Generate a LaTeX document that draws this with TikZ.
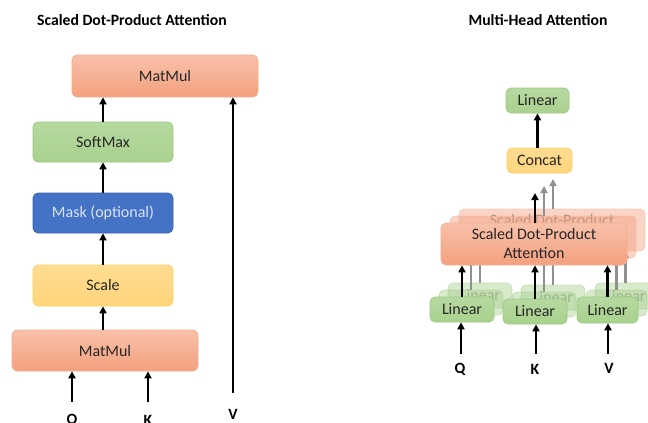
\documentclass[tikz,border=0pt]{standalone}
\usepackage{fontspec}
\setmainfont{Carlito}
\usetikzlibrary{arrows.meta}
\definecolor{txt}{HTML}{262626}
\definecolor{salmontop}{HTML}{F8C1A9}
\definecolor{salmonbot}{HTML}{F4A07F}
\definecolor{salmonline}{HTML}{F5AE90}
\definecolor{greenfill}{HTML}{A9D18E}
\definecolor{greentop}{HTML}{B6D9A0}
\definecolor{greenline}{HTML}{9CC883}
\definecolor{yellowtop}{HTML}{FFDC92}
\definecolor{yellowbot}{HTML}{FFD47C}
\definecolor{yellowline}{HTML}{FFD165}
\definecolor{bluefill}{HTML}{4472C4}
\definecolor{blueline}{HTML}{3B63AD}
\definecolor{bluetext}{HTML}{DAE3F3}
\definecolor{arrgray}{HTML}{909090}
\begin{document}
\begin{tikzpicture}[x=1pt,y=-1pt,
  lbl/.style={font=\fontsize{15.7}{19}\selectfont\bfseries, text=black, inner sep=0pt},
  box/.style={rounded corners=5pt, line width=0.7pt, inner sep=0pt, align=center, text=txt,
    font=\fontsize{16}{19}\selectfont},
  salmonbox/.style={box, draw=salmonline, top color=salmontop, bottom color=salmonbot},
  greenbox/.style={box, draw=greenline, top color=greentop, bottom color=greenfill},
  yellowbox/.style={box, draw=yellowline, top color=yellowtop, bottom color=yellowbot},
  bluebox/.style={box, draw=blueline, fill=bluefill, text=bluetext},
  ghostsalmon/.style={box, draw=salmonline, fill=salmonbot, fill opacity=0.45, draw opacity=0.45, text opacity=0.4},
  ghostgreen/.style={box, draw=greenline, fill=greenfill, fill opacity=0.45, draw opacity=0.45, text opacity=0.4},
  arr/.style={line width=2.1pt, -{Triangle[length=7pt,width=7pt]}},
  garr/.style={arr, draw=arrgray, fill=arrgray},
]
\useasboundingbox (0,0) rectangle (648,423);
\fill[white] (0,0) rectangle (648,423);

% ---------- Left: Scaled Dot-Product Attention ----------
\node[lbl] (t1) at (132,20) {Scaled Dot-Product Attention};
\node[salmonbox, minimum width=186pt, minimum height=42pt] (mm2) at (165,76) {MatMul};
\node[greenbox, minimum width=140pt, minimum height=40pt] (soft) at (103,142) {SoftMax};
\node[bluebox, minimum width=140pt, minimum height=40pt] (mask) at (103,213) {Mask (optional)};
\node[yellowbox, minimum width=140pt, minimum height=41pt] (scale) at (103,285.5) {Scale};
\node[salmonbox, minimum width=186pt, minimum height=41pt] (mm1) at (105,350.5) {MatMul};

\draw[arr] (soft.north) -- (soft.north |- mm2.south);
\draw[arr] (mask.north) -- (soft.south);
\draw[arr] (scale.north) -- (mask.south);
\draw[arr] (scale.south |- mm1.north) -- (scale.south);

\coordinate (q0) at (72,402);
\coordinate (k0) at (148,402);
\coordinate (v0) at (233,393);
\draw[arr] (q0) -- (q0 |- mm1.south);
\draw[arr] (k0) -- (k0 |- mm1.south);
\draw[arr] (v0) -- (v0 |- mm2.south);
\node[lbl] (ql) at (72,420) {Q};
\node[lbl] (kl) at (148,420) {K};
\node[lbl] (vl) at (233,414) {V};

% ---------- Right: Multi-Head Attention ----------
\node[lbl] (t2) at (538,20) {Multi-Head Attention};

% far copy (with faint text)
\begin{scope}[shift={(18,-14)}]
  \node[ghostgreen, minimum width=64pt, minimum height=25pt] (lq2) at (462,309.5) {Linear};
  \node[ghostgreen, minimum width=64pt, minimum height=25pt] (lk2) at (535,311.5) {Linear};
  \node[ghostgreen, minimum width=61pt, minimum height=26pt] (lv2) at (607.5,310) {Linear};
  \node[ghostsalmon, minimum width=186pt, minimum height=42pt] (sd2) at (534,244) {Scaled Dot-Product\\Attention};
  \coordinate (top2) at (535,193);
  \draw[garr] (sd2.north -| top2) -- (top2);
  \draw[garr] (lq2.north) -- (lq2.north |- sd2.south);
  \draw[garr] (lk2.north) -- (lk2.north |- sd2.south);
  \draw[garr] (lv2.north) -- (lv2.north |- sd2.south);
\end{scope}
% middle copy (its text is hidden behind the front layer)
\begin{scope}[shift={(9,-7)}]
  \node[ghostgreen, minimum width=64pt, minimum height=25pt] (lq1) at (462,309.5) {};
  \node[ghostgreen, minimum width=64pt, minimum height=25pt] (lk1) at (535,311.5) {};
  \node[ghostgreen, minimum width=61pt, minimum height=26pt] (lv1) at (607.5,310) {};
  \node[ghostsalmon, minimum width=186pt, minimum height=42pt] (sd1) at (534,244) {};
  \coordinate (top1) at (535,193);
  \draw[garr] (sd1.north -| top1) -- (top1);
  \draw[garr] (lq1.north) -- (lq1.north |- sd1.south);
  \draw[garr] (lk1.north) -- (lk1.north |- sd1.south);
  \draw[garr] (lv1.north) -- (lv1.north |- sd1.south);
\end{scope}

\node[greenbox, minimum width=63pt, minimum height=25pt] (lout) at (537.5,100.5) {Linear};
\node[yellowbox, minimum width=65pt, minimum height=25pt] (concat) at (539.5,160.5) {Concat};
\node[salmonbox, minimum width=186pt, minimum height=42pt] (sdpa) at (534,244) {Scaled Dot-Product\\Attention};
\node[greenbox, minimum width=64pt, minimum height=25pt] (lq) at (462,309.5) {Linear};
\node[greenbox, minimum width=64pt, minimum height=25pt] (lk) at (535,311.5) {Linear};
\node[greenbox, minimum width=61pt, minimum height=26pt] (lv) at (607.5,310) {Linear};

\draw[arr] (concat.north -| lout.south) -- (lout.south);
\coordinate (top0) at (535,193);
\draw[arr] (sdpa.north -| top0) -- (top0);
\draw[arr] (lq.north) -- (lq.north |- sdpa.south);
\draw[arr] (lk.north) -- (lk.north |- sdpa.south);
\draw[arr] (lv.north) -- (lv.north |- sdpa.south);

\coordinate (rq0) at (461,354);
\coordinate (rk0) at (536,354);
\coordinate (rv0) at (608,354);
\draw[arr] (rq0) -- (rq0 |- lq.south);
\draw[arr] (rk0) -- (rk0 |- lk.south);
\draw[arr] (rv0) -- (rv0 |- lv.south);
\node[lbl] (rql) at (460,369) {Q};
\node[lbl] (rkl) at (535,369) {K};
\node[lbl] (rvl) at (609,368) {V};
\end{tikzpicture}
\end{document}
